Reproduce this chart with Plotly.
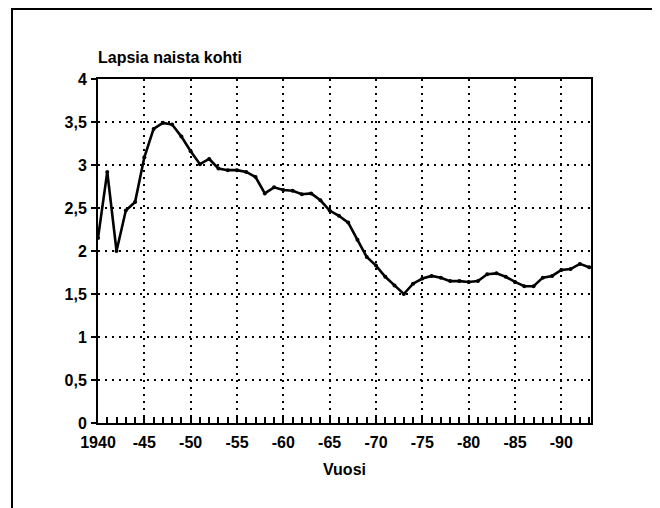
import plotly.graph_objects as go

years = list(range(1940, 1994))
tfr = [2.15, 2.92, 2.00, 2.47, 2.57, 3.09, 3.42, 3.49, 3.47, 3.33,
       3.16, 3.01, 3.07, 2.96, 2.94, 2.94, 2.92, 2.86, 2.67, 2.74,
       2.71, 2.70, 2.66, 2.67, 2.59, 2.47, 2.41, 2.33, 2.13, 1.93,
       1.83, 1.70, 1.60, 1.50, 1.62, 1.68, 1.71, 1.69, 1.65, 1.65,
       1.64, 1.65, 1.73, 1.74, 1.70, 1.64, 1.59, 1.59, 1.69, 1.71,
       1.78, 1.79, 1.85, 1.81]

x_tickvals = [1940, 1945, 1950, 1955, 1960, 1965, 1970, 1975, 1980, 1985, 1990]
x_ticktext = ["1940", "-45", "-50", "-55", "-60", "-65", "-70", "-75", "-80", "-85", "-90"]
y_tickvals = [0, 0.5, 1, 1.5, 2, 2.5, 3, 3.5, 4]
y_ticktext = ["0", "0,5", "1", "1,5", "2", "2,5", "3", "3,5", "4"]

FONT = "Liberation Sans, Arial, sans-serif"

fig = go.Figure()
fig.add_trace(go.Scatter(
    x=years, y=tfr, mode="lines+markers",
    line=dict(color="black", width=2.6),
    marker=dict(color="black", size=4),
    showlegend=False, hoverinfo="skip",
))

# page has an 8px body margin; figure coordinates = page coordinates - 8
OFF = 8
W, H = 652, 500
L, T = 98 - OFF, 79 - OFF
R = W - (591 - OFF)
B = H - (423 - OFF)
pw, ph = W - L - R, H - T - B

def px_x(p):
    return (p - OFF - L) / pw

def px_y(p):
    return (H - B - (p - OFF)) / ph

fig.update_layout(
    width=W, height=H,
    margin=dict(l=L, r=R, t=T, b=B),
    paper_bgcolor="white", plot_bgcolor="white",
    font=dict(family=FONT, size=16, color="black", weight="bold"),
    xaxis=dict(
        range=[1940, 1993.2],
        tickvals=x_tickvals, ticktext=x_ticktext,
        ticks="inside", ticklen=8, tickwidth=1.5, tickcolor="black",
        ticklabelstandoff=4,
        tickfont=dict(size=16, weight="bold"),
        minor=dict(dtick=1, tick0=1940, ticks="inside", ticklen=6,
                   tickwidth=1.5, tickcolor="black", showgrid=False),
        showgrid=True, gridcolor="black", gridwidth=2, griddash="2px,5px",
        showline=True, linecolor="black", linewidth=2, mirror=True,
        zeroline=False,
        title=dict(text="Vuosi", standoff=14, font=dict(size=16, weight="bold")),
    ),
    yaxis=dict(
        range=[0, 4],
        tickvals=y_tickvals, ticktext=y_ticktext,
        ticks="outside", ticklen=5, tickwidth=1.5, tickcolor="black",
        ticklabelstandoff=1,
        tickfont=dict(size=16, weight="bold"),
        showgrid=True, gridcolor="black", gridwidth=2, griddash="2px,5px",
        showline=True, linecolor="black", linewidth=2, mirror=True,
        zeroline=False,
    ),
    annotations=[dict(
        text="Lapsia naista kohti", xref="paper", yref="paper",
        x=px_x(96), y=px_y(58), xanchor="left", yanchor="middle",
        showarrow=False, font=dict(size=16, family=FONT, weight="bold"),
    )],
    shapes=[dict(
        type="rect", xref="paper", yref="paper",
        x0=px_x(12), x1=px_x(653), y0=px_y(530), y1=px_y(9),
        line=dict(color="black", width=2), layer="below",
    )],
)

fig.write_html("out.html")
